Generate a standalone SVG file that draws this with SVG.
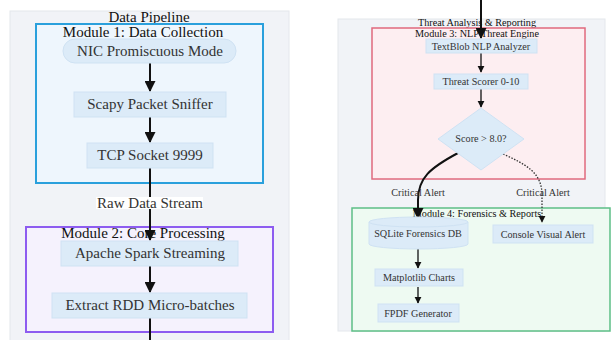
<svg xmlns="http://www.w3.org/2000/svg" width="611" height="340" viewBox="0 0 611 340">
<defs>
<marker id="ah" viewBox="0 0 10 10" refX="9" refY="5" markerWidth="5.5" markerHeight="5.5" orient="auto"><path d="M0,0 L10,5 L0,10 z" fill="#111"/></marker>
<style>
.panel{fill:#f1f3f7;stroke:#e4e7ec;stroke-width:1}
.node{fill:#dcebf8;stroke:#cfe2f3;stroke-width:1}
.t{font-family:"Liberation Serif","Times New Roman",serif;fill:#333;text-anchor:middle;dominant-baseline:central}
.big{font-size:15px}
.sm{font-size:10.2px}
.title{fill:#111}
.e{fill:none;stroke:#111;stroke-width:2}
.e2{fill:none;stroke:#111;stroke-width:1.3}
</style>
</defs>
<rect width="611" height="340" fill="#ffffff"/>

<g id="panel-left">
<rect class="panel" x="10" y="11" width="279" height="340"/>
<text class="t big title" x="149" y="17">Data Pipeline</text>
</g>
<g id="module1">
<rect x="36" y="24" width="227" height="159" fill="#eef6fd" stroke="#2aa0dc" stroke-width="2"/>
<text class="t big title" x="143" y="32">Module 1: Data Collection</text>
</g>
<g id="module2">
<rect x="26" y="227" width="247" height="105" fill="#f5f2fd" stroke="#8d5cf0" stroke-width="2"/>
<text class="t big title" x="143" y="233">Module 2: Core Processing</text>
</g>

<g id="panel-right">
<rect class="panel" x="338" y="19" width="267" height="312"/>
<text class="t sm title" x="477" y="22.5">Threat Analysis &amp; Reporting</text>
</g>
<g id="module3">
<rect x="372" y="28" width="213" height="151" fill="#fdeef1" stroke="#e06a7e" stroke-width="1.5"/>
<text class="t sm title" x="477" y="33.5">Module 3: NLP Threat Engine</text>
</g>
<g id="module4">
<rect x="352" y="208" width="258" height="123" fill="#eefaf2" stroke="#5dbf86" stroke-width="1.5"/>
<text class="t sm title" x="477" y="213">Module 4: Forensics &amp; Reports</text>
</g>

<g id="connectors">
<path class="e" d="M150,63 V91" marker-end="url(#ah)"/>
<path class="e" d="M150,117 V142" marker-end="url(#ah)"/>
<path class="e" d="M150,168 V240" marker-end="url(#ah)"/>
<rect x="96" y="197" width="107" height="12" fill="#ffffff"/>
<text class="t big" x="150" y="203">Raw Data Stream</text>
<path class="e" d="M150,266 V292" marker-end="url(#ah)"/>
<path class="e" d="M150,318 V340"/>

<path class="e" d="M481,0 V38" marker-end="url(#ah)"/>
<path class="e2" d="M481,53 V72" marker-end="url(#ah)"/>
<path class="e2" d="M481,89 V107" marker-end="url(#ah)"/>
<path class="e" d="M458,153 C430,168 418,178 418,200 V218" marker-end="url(#ah)"/>
<path fill="none" stroke="#333" stroke-width="1.3" stroke-dasharray="1.5,1.5" d="M503,154 C525,164 542,172 542,195 V222" marker-end="url(#ah)"/>
<text class="t sm" x="418" y="192">Critical Alert</text>
<text class="t sm" x="543" y="192">Critical Alert</text>
<path class="e2" d="M418,249 V268" marker-end="url(#ah)"/>
<path class="e2" d="M418,287 V303" marker-end="url(#ah)"/>
</g>

<g id="nic">
<rect class="node" x="63" y="39" width="173" height="24" rx="12"/>
<text class="t big" x="150" y="51">NIC Promiscuous Mode</text>
</g>
<g id="scapy">
<rect class="node" x="74" y="92" width="152" height="25"/>
<text class="t big" x="150" y="104">Scapy Packet Sniffer</text>
</g>
<g id="tcp">
<rect class="node" x="87" y="143" width="126" height="25"/>
<text class="t big" x="150" y="155">TCP Socket 9999</text>
</g>
<g id="spark">
<rect class="node" x="61" y="241" width="177" height="25"/>
<text class="t big" x="150" y="253">Apache Spark Streaming</text>
</g>
<g id="rdd">
<rect class="node" x="52" y="293" width="195" height="25"/>
<text class="t big" x="150" y="305">Extract RDD Micro-batches</text>
</g>

<g id="textblob">
<rect class="node" x="426" y="39" width="111" height="14"/>
<text class="t sm" x="481" y="46">TextBlob NLP Analyzer</text>
</g>
<g id="scorer">
<rect class="node" x="434" y="74" width="94" height="15"/>
<text class="t sm" x="481" y="81.5">Threat Scorer 0-10</text>
</g>
<g id="decision">
<path class="node" d="M481,108 L524,139 L481,170 L438,139 Z"/>
<text class="t sm" x="481" y="138">Score &gt; 8.0?</text>
</g>
<g id="sqlite">
<path class="node" d="M369,222 A49.5,5 0 0 1 468,222 V244 A49.5,5 0 0 1 369,244 Z"/>
<path d="M369,222 A49.5,5 0 0 0 468,222" fill="none" stroke="#cfe2f3" stroke-width="1"/>
<text class="t sm" x="418" y="233">SQLite Forensics DB</text>
</g>
<g id="console">
<rect class="node" x="493" y="225" width="100" height="18"/>
<text class="t sm" x="543" y="234">Console Visual Alert</text>
</g>
<g id="matplotlib">
<rect class="node" x="375" y="269" width="88" height="17"/>
<text class="t sm" x="419" y="277.5">Matplotlib Charts</text>
</g>
<g id="fpdf">
<rect class="node" x="378" y="304" width="81" height="18"/>
<text class="t sm" x="418" y="313">FPDF Generator</text>
</g>
</svg>
